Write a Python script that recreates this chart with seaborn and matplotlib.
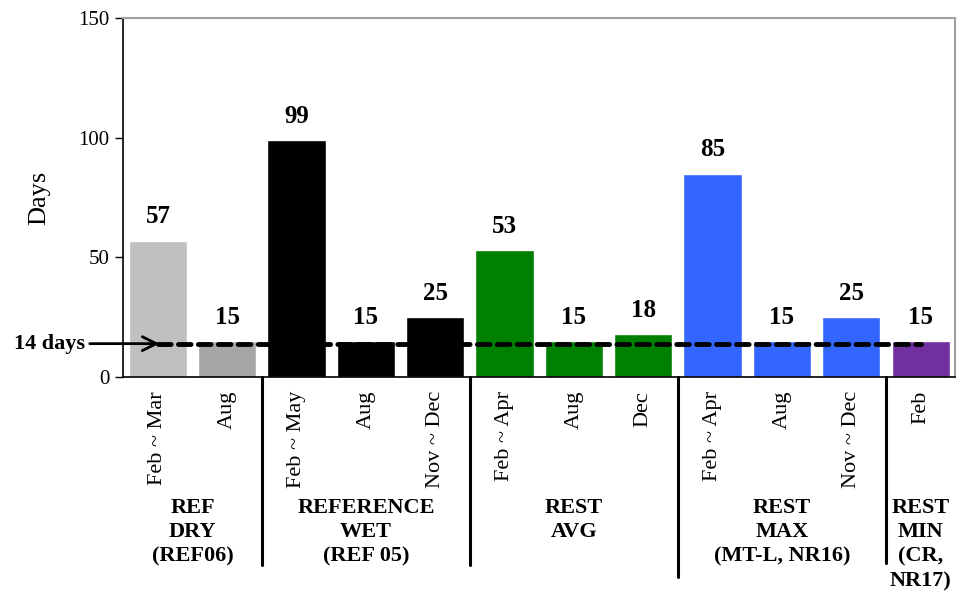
import pandas as pd
import seaborn as sns
import matplotlib.pyplot as plt

# data
periods = ["Feb ~ Mar", "Aug",
           "Feb ~ May", "Aug", "Nov ~ Dec",
           "Feb ~ Apr", "Aug", "Dec",
           "Feb ~ Apr", "Aug", "Nov ~ Dec",
           "Feb"]
days = [57, 15, 99, 15, 25, 53, 15, 18, 85, 15, 25, 15]
bar_colors = ["#c0c0c0", "#a6a6a6",
              "#000000", "#000000", "#000000",
              "#008000", "#008000", "#008000",
              "#3366ff", "#3366ff", "#3366ff",
              "#7030a0"]
group_names = ["REF\nDRY\n(REF06)", "REFERENCE\nWET\n(REF 05)", "REST\nAVG",
               "REST\nMAX\n(MT-L, NR16)", "REST\nMIN\n(CR,\nNR17)"]
group_sizes = [2, 3, 3, 3, 1]
threshold = 14

df = pd.DataFrame({"slot": [str(i) for i in range(len(days))],
                   "period": periods, "days": days})

sns.set_theme(style="white")
plt.rcParams['font.family'] = ['Liberation Serif', 'DejaVu Serif']
plt.rcParams.update({"text.color": "black", "axes.labelcolor": "black",
                     "xtick.color": "black", "ytick.color": "black"})

fig = plt.figure(figsize=(9.63, 5.94), dpi=100)
ax = fig.add_axes([0.128, 0.365, 0.864, 0.605])

sns.barplot(data=df, x="slot", y="days", hue="slot", palette=bar_colors,
            legend=False, width=0.84, saturation=1, ax=ax)

ax.set_xlim(-0.5, len(days) - 0.5)
ax.set_ylim(0, 150)
ax.set_yticks([0, 50, 100, 150])
ax.tick_params(axis="y", labelsize=15, length=6, width=1, color="black",
               direction="out", left=True, pad=4)
ax.set_xticks(range(len(days)))
ax.set_xticklabels(periods, rotation=90, fontsize=16, va="top")
ax.tick_params(axis="x", length=0, pad=10)
ax.set_xlabel("")
ax.set_ylabel("Days", fontsize=19, labelpad=20)

for side in ["left", "bottom"]:
    ax.spines[side].set_color("black")
    ax.spines[side].set_linewidth(1.2)
for side in ["top", "right"]:
    ax.spines[side].set_color("#a0a0a0")
    ax.spines[side].set_linewidth(1.5)

# value labels
for i, v in enumerate(days):
    ax.annotate(str(v), (i, v), xytext=(0, 9), textcoords="offset points",
                ha="center", va="bottom", fontsize=18, fontweight="bold")

# 14 day threshold
ax.plot([0, len(days) - 1], [threshold, threshold], color="black", lw=3.5,
        dashes=(2.6, 1.5), dash_capstyle="round")
ax.annotate("14 days", xy=(0.02, threshold), xytext=(-1.05, threshold),
            xycoords="data", textcoords="data", ha="right", va="center",
            fontsize=16, fontweight="bold", annotation_clip=False,
            arrowprops=dict(arrowstyle="->", color="black", lw=2,
                            mutation_scale=25, shrinkA=1, shrinkB=0))

# group labels and separators
sep_depth = [-0.524, -0.524, -0.557, -0.518]
start = 0
for k, (name, n) in enumerate(zip(group_names, group_sizes)):
    center = start + (n - 1) / 2
    ax.text(center, -0.335, name, transform=ax.get_xaxis_transform(),
            ha="center", va="top", fontsize=16, fontweight="bold",
            linespacing=1.3)
    start += n
    if k < len(sep_depth):
        ax.plot([start - 0.5, start - 0.5], [0, sep_depth[k]],
                transform=ax.get_xaxis_transform(), color="black", lw=2.2,
                clip_on=False)

fig.savefig("out.png", dpi=100)
